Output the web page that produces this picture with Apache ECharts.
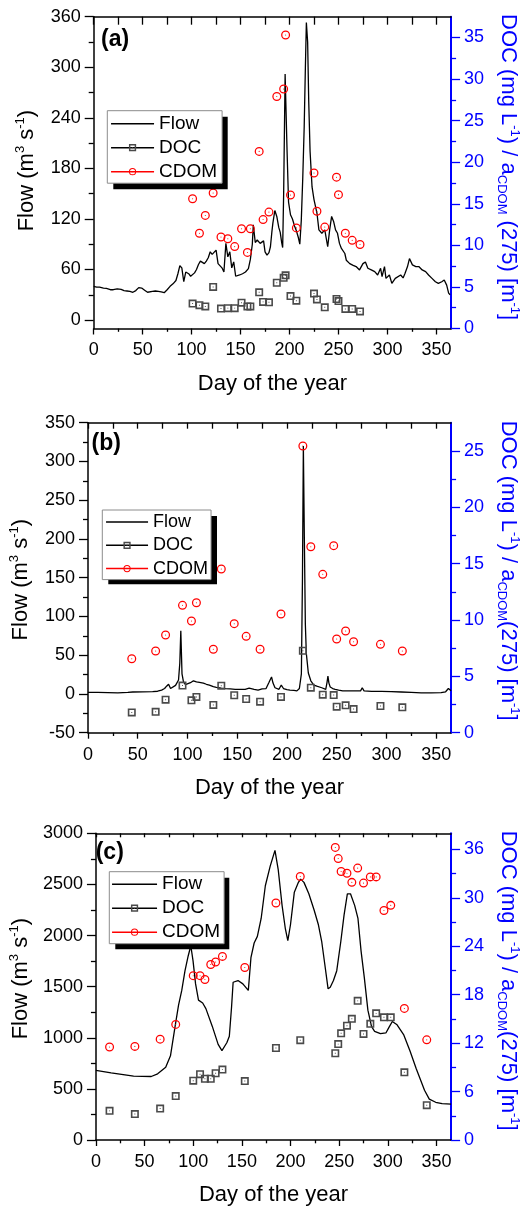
<!DOCTYPE html>
<html>
<head>
<meta charset="utf-8">
<script src="https://cdn.jsdelivr.net/npm/echarts@6/dist/echarts.min.js"></script>
<style>
html,body{margin:0;padding:0;background:#fff;}
#c{width:529px;height:1207px;}
</style>
</head>
<body>
<div id="c"></div>
<script>
// ---------------- DATA ----------------
// Panel (a)
const flowA = [[0,40],[3,39],[6,39],[10,38],[13,37.5],[17,36],[20,36],[24,37],[28,36.5],[31,35],[34,34.5],[37,34],[40,33],[43,35],[46,38.5],[49,38],[52,35.5],[55,33],[57,32.5],[60,34],[63,34.5],[66,34],[69,33.5],[72,32.5],[75,36],[78,40],[81,43],[84,47],[86,55],[88,64.5],[90,62],[92,45.5],[94,57],[97,55],[99,52],[101,51],[103,56],[105,60],[107,66],[109,70],[111,68],[113,67],[115,70],[117,74],[119,81],[121,78],[122,79],[125,83],[127,67],[129,65],[131,62],[133,57],[135,91],[137,75],[139,81],[141,62],[143,69],[145,52],[147,50],[149,53.5],[152,55],[155,57],[158,61],[160,72],[162,90],[163,113],[165,92],[167,95],[168.5,97],[170,91],[172,93],[173.5,94],[175,81],[177,77],[179,80],[180.5,87],[182,105],[183,115],[185,130],[187,123],[189,110],[190.5,104],[192,92],[193,86],[194,150],[195.5,292],[197.5,200],[199,140],[201,125],[203,120],[205,112],[207,106],[209,98],[210.5,90],[212,118],[213.5,168],[215,230],[216.2,300],[217.2,353],[218.5,330],[219.6,260],[221,200],[223,158],[225,143],[228,127],[230,107],[233,103],[236,107],[239,87],[241,107],[243,123],[245,117],[247,107],[249,103],[251,91],[253,85],[255,83],[256.5,79],[258,71],[261.5,67],[265,65],[268,63.5],[271.5,59.5],[275,67],[277.5,69],[280,61.5],[283.5,59.5],[287,57.5],[290,53.5],[293,61.5],[294.5,51.5],[297,63.5],[298.5,49.5],[302,53.5],[304.5,43.5],[308,49.5],[310,47.5],[313.5,53.5],[316,50],[318,55.5],[320.5,63.5],[322.5,73],[325.5,65.5],[329,63.5],[332,63.5],[335.5,59.5],[339,57.5],[342,53.5],[345.5,49.5],[349,45.5],[352,43.5],[355.5,45.5],[358,47.5],[360.5,41.5],[362.5,32],[364,30]];
const daysA = [101,108,114,122,130,137,144,151,157,160,169,173,179,187,194,196,201,207,225,228,236,248,250,257,264,272];
const docA  = [3.0,2.8,2.65,5.0,2.4,2.45,2.45,3.1,2.65,2.65,4.35,3.2,3.15,5.5,6.1,6.4,3.9,3.35,4.2,3.5,2.55,3.55,3.3,2.35,2.35,2.05];
const cdomA = [15.6,11.45,13.6,16.3,11.0,10.8,9.85,12.0,9.15,12.0,21.3,13.1,14.0,27.9,28.8,35.3,16.05,12.1,18.7,14.1,12.2,18.2,16.1,11.45,10.6,10.1];

// Panel (b)
const flowB = [[0,2],[10,2],[20,1.8],[30,1.5],[40,2],[45,2.5],[55,2.8],[65,3],[70,3.5],[74,5],[77,7],[79,10],[81,12.6],[83,7],[85,6],[88,11],[91,18],[92.3,40],[93.3,81.5],[94.5,26],[96,15.5],[98,12],[100,11],[103,14.5],[106,17],[109,15.5],[112,15],[116,14],[119,12.5],[122,11.5],[126,9.5],[129,8.5],[134,7.5],[138,7],[143,6.5],[148,6],[153,5.8],[158,6],[162,7.5],[164,8.5],[167,6],[171,5],[175,6.5],[179,7],[182,15],[184.5,22],[186,14],[188,8],[192,6],[194.3,11.5],[196.5,7],[200,5.5],[203,5],[207,4.5],[210,4],[212.5,7],[214.5,26],[215.6,150],[216.5,320],[217.5,200],[218.5,90],[219.5,52],[221.5,27],[224,17],[227,11.5],[230,10],[232,9],[235,8],[237,7],[239,6],[240.3,15],[241.2,23],[242.2,14],[243.5,9],[246,7],[248.5,6],[252,5],[256,4],[262,4],[268,4],[274,4],[275.7,8],[277.5,4],[285,3.3],[295,3.2],[305,3],[315,2.5],[325,2],[335,1.5],[345,1.5],[355,1.8],[359.5,2.8],[362.3,7],[363.5,5],[365,4]];
const daysB = [44,68,78,95,104,109,126,134,147,159,173,194,216,224,236,247,250,259,267,294,316];
const docB  = [1.8,1.85,2.93,4.18,2.87,3.17,2.46,4.17,3.32,2.99,2.75,3.17,7.27,3.99,3.37,3.34,2.31,2.43,2.1,2.37,2.25];
const cdomB = [6.56,7.25,8.67,11.3,9.91,11.53,7.4,14.52,9.67,8.55,7.4,10.53,25.43,16.5,14.05,16.59,8.31,9.02,8.07,7.84,7.25];

// Panel (c)
const flowC = [[0,682],[15.6,657],[38.7,624],[56.8,621],[63.4,647],[71.7,711],[76.6,823],[81.6,1127],[84.9,1320],[88.2,1463],[91.5,1655],[94.8,1800],[97.5,1900],[99.8,1752],[102.4,1527],[105.4,1368],[109.7,1340],[113,1285],[119.6,1111],[125.6,935],[129.5,875],[134.5,951],[137.1,1015],[139.4,1303],[141,1543],[146,1560],[151,1527],[156.6,1463],[159.3,1783],[162.6,1927],[165.9,1992],[169.8,2167],[174.1,2487],[179.1,2679],[184,2833],[187.3,2648],[191.3,2295],[194.6,2071],[197.2,1950],[199.9,2103],[203.9,2424],[208.1,2520],[210.4,2552],[213.8,2520],[218.8,2408],[224.3,2247],[228.7,2103],[232,1944],[235.2,1719],[238.6,1479],[240.8,1495],[244.1,1560],[247.5,1656],[251.7,1944],[255,2199],[258.4,2408],[261.6,2408],[265.9,2295],[269.3,2167],[272.5,1848],[275.8,1591],[279.5,1270],[283.2,1111],[286.4,1063],[292.4,1041],[298,1047],[301.3,1104],[304.6,1159],[309.5,1127],[316.2,1031],[322.8,871],[329.3,695],[337.7,487],[342.6,400],[349.2,369],[355.8,355],[365,350]];
const daysC = [14,40,66,82,100,107,112,118,123,130,153,185,210,246,249,252,258,263,269,275,282,288,296,303,317,340];
const docC  = [3.61,3.21,3.89,5.44,7.35,8.15,7.59,7.59,8.27,8.72,7.3,11.4,12.37,10.75,11.88,13.22,14.16,15.01,17.24,13.14,14.4,15.69,15.2,15.2,8.39,4.31];
const cdomC = [11.52,11.6,12.49,14.32,20.36,20.36,19.88,21.74,22.06,22.75,21.37,29.36,32.65,36.25,34.87,33.26,33.05,31.92,33.69,31.83,32.6,32.6,28.43,29.07,16.3,12.41];

// Tick labels
const dayTicks   = [0,50,100,150,200,250,300,350];
const flowTicksA = [0,60,120,180,240,300,360];
const flowTicksB = [-50,0,50,100,150,200,250,300,350];
const flowTicksC = [0,500,1000,1500,2000,2500,3000];
const concTicksA = [0,5,10,15,20,25,30,35];
const concTicksB = [0,5,10,15,20,25];
const concTicksC = [0,6,12,18,24,30,36];
const panelLabels = ['(a)','(b)','(c)'];
const seriesNames = ['Flow','DOC','CDOM'];

// ---------------- LAYOUT / STYLE ----------------
const FONT = '"Liberation Sans", Arial, Helvetica, sans-serif';
const BLUE = '#0000ff';
const SQ = 'path://M0,0H10V10H0Z M2,2V8H8V2Z M4.4,4.4H5.6V5.6H4.4Z';
const CI = 'path://M0,5A5,5,0,1,1,10,5A5,5,0,1,1,0,5Z M1.4,5A3.6,3.6,0,1,0,8.6,5A3.6,3.6,0,1,0,1.4,5Z M4.4,5A0.6,0.6,0,1,1,5.6,5A0.6,0.6,0,1,1,4.4,5Z';

function mids(a){ const r=[]; for(let i=0;i<a.length-1;i++) r.push((a[i]+a[i+1])/2); return r; }
function steps(a,b,s){ const r=[]; for(let v=a; v<=b+1e-9; v+=s) r.push(v); return r; }
const plain = v => String(v);

const panels = [
  { grid:{left:93.7, top:16.7, width:362, height:311.8},
    flow:flowA, days:daysA, doc:docA, cdom:cdomA,
    yL:{min:-10,max:360,ticks:flowTicksA}, yR:{min:0,max:37.5,ticks:concTicksA},
    topLen:8, rightName:'{t|DOC (mg L}{p|-1}{t|) / a}{b|CDOM}{t| (275) [m}{p|-1}{t|]}',
    legend:{left:107.3, top:110.7, w:114.4, h:72.6, fs:19, iw:43, gap:5, pad:[3.5,5,2,3]},
    label:{left:101, top:28}, lPad:[0,0,0,4], rPad:[0,11,0,0] },
  { grid:{left:83.7, top:422.7, width:376.8, height:310},
    flow:flowB, days:daysB, doc:docB, cdom:cdomB,
    yL:{min:-50,max:350,ticks:flowTicksB}, yR:{min:0,max:27.5,ticks:concTicksB},
    topLen:6, rightName:'{t|DOC (mg L}{p|-1}{t|) / a}{b|CDOM}{t|(275) [m}{p|-1}{t|]}',
    legend:{left:102.3, top:510, w:108.7, h:68.3, fs:18, iw:42, gap:5.3, pad:[3,3,2,3]},
    label:{left:91.5, top:432.5}, lPad:[0,4,0,0], rPad:[0,14,0,0] },
  { grid:{left:91, top:833.3, width:368.3, height:312.4},
    flow:flowC, days:daysC, doc:docC, cdom:cdomC,
    yL:{min:0,max:3000,ticks:flowTicksC}, yR:{min:0,max:38,ticks:concTicksC},
    topLen:4, rightName:'{t|DOC (mg L}{p|-1}{t|) / a}{b|CDOM}{t|(275) [m}{p|-1}{t|]}',
    legend:{left:109.3, top:871.7, w:114, h:71.6, fs:19, iw:45, gap:5, pad:[3,4,2,2]},
    label:{left:95.7, top:841.5}, lPad:[0,0,0,16], rPad:[0,12,0,0] }
];

const rich = (color) => ({
  t:{fontSize:22, lineHeight:26, fontFamily:FONT, color:color},
  p:{fontSize:13, lineHeight:13, fontFamily:FONT, color:color, verticalAlign:'top'},
  b:{fontSize:13, lineHeight:13, fontFamily:FONT, color:color, verticalAlign:'bottom'}
});

const option = {
  animation:false,
  backgroundColor:'#fff',
  grid:[], xAxis:[], yAxis:[], series:[], legend:[], title:[], graphic:[]
};

panels.forEach((P, g) => {
  option.grid.push(Object.assign({containLabel:false}, P.grid));
  const xi = option.xAxis.length, yi = option.yAxis.length;
  const noSplit = {show:false};
  // bottom axis
  option.xAxis.push({gridIndex:g, type:'value', position:'bottom', min:0, max:365,
    axisLine:{show:true, onZero:false, lineStyle:{color:'#000', width:1.5}},
    axisTick:{show:true, customValues:dayTicks, length:6, lineStyle:{color:'#000', width:1.3}},
    axisLabel:{show:true, customValues:dayTicks, formatter:plain, fontSize:18, color:'#000', fontFamily:FONT, margin:13},
    splitLine:noSplit,
    name:'Day of the year', nameLocation:'middle', nameGap:44,
    nameTextStyle:{fontSize:22, color:'#000', fontFamily:FONT}});
  option.xAxis.push({gridIndex:g, type:'value', position:'bottom', min:0, max:365,
    axisLine:{show:false, onZero:false},
    axisTick:{show:true, customValues:mids(dayTicks), length:3.3, lineStyle:{color:'#000', width:1.3}},
    axisLabel:{show:false}, splitLine:noSplit});
  option.xAxis.push({gridIndex:g, type:'value', position:'top', min:0, max:365,
    axisLine:{show:true, onZero:false, lineStyle:{color:'#000', width:1.5}},
    axisTick:{show:true, inside:true, customValues:steps(0,350,25), length:P.topLen, lineStyle:{color:'#000', width:1.3}},
    axisLabel:{show:false}, splitLine:noSplit});
  // left axis
  option.yAxis.push({gridIndex:g, type:'value', position:'left', min:P.yL.min, max:P.yL.max,
    axisLine:{show:true, onZero:false, lineStyle:{color:'#000', width:1.5}},
    axisTick:{show:true, customValues:P.yL.ticks, length:9, lineStyle:{color:'#000', width:1.3}},
    axisLabel:{show:true, customValues:P.yL.ticks, formatter:plain, fontSize:18, color:'#000', fontFamily:FONT, margin:13},
    splitLine:noSplit,
    name:'{t|Flow (m}{p|3}{t| s}{p|-1}{t|)}', nameLocation:'middle', nameRotate:90, nameGap:54,
    nameTextStyle:{fontSize:22, color:'#000', fontFamily:FONT, rich:rich('#000'), padding:P.lPad}});
  option.yAxis.push({gridIndex:g, type:'value', position:'left', min:P.yL.min, max:P.yL.max,
    axisLine:{show:false, onZero:false},
    axisTick:{show:true, customValues:mids(P.yL.ticks), length:5, lineStyle:{color:'#000', width:1.3}},
    axisLabel:{show:false}, splitLine:noSplit});
  // right axis
  option.yAxis.push({gridIndex:g, type:'value', position:'right', min:P.yR.min, max:P.yR.max,
    axisLine:{show:true, onZero:false, lineStyle:{color:BLUE, width:2}},
    axisTick:{show:true, customValues:P.yR.ticks, length:9, lineStyle:{color:BLUE, width:1.3}},
    axisLabel:{show:true, customValues:P.yR.ticks, formatter:plain, fontSize:18, color:BLUE, fontFamily:FONT, margin:13},
    splitLine:noSplit,
    name:P.rightName, nameLocation:'middle', nameRotate:-90, nameGap:40,
    nameTextStyle:{fontSize:22, color:BLUE, fontFamily:FONT, rich:rich(BLUE), padding:P.rPad}});
  option.yAxis.push({gridIndex:g, type:'value', position:'right', min:P.yR.min, max:P.yR.max,
    axisLine:{show:false, onZero:false},
    axisTick:{show:true, customValues:mids(P.yR.ticks), length:5, lineStyle:{color:BLUE, width:1.3}},
    axisLabel:{show:false}, splitLine:noSplit});

  // series
  option.series.push({name:seriesNames[0], type:'line', xAxisIndex:xi, yAxisIndex:yi,
    data:P.flow, symbol:'none', lineStyle:{color:'#000', width:1.3}, itemStyle:{color:'#000'}, z:2, silent:true});
  option.series.push({name:seriesNames[1], type:'line', xAxisIndex:xi, yAxisIndex:yi+2,
    data:P.days.map((d,i)=>[d,P.doc[i]]), symbol:SQ, symbolSize:8, showSymbol:true, showAllSymbol:true,
    itemStyle:{color:'#4a4a4a'}, lineStyle:{width:0, opacity:0}, z:3, silent:true});
  option.series.push({name:seriesNames[2], type:'line', xAxisIndex:xi, yAxisIndex:yi+2,
    data:P.days.map((d,i)=>[d,P.cdom[i]]), symbol:CI, symbolSize:9, showSymbol:true, showAllSymbol:true,
    itemStyle:{color:'#ff0000'}, lineStyle:{width:0, opacity:0}, z:4, silent:true});

  // legend shadow box (decoration) + legend
  const L = P.legend;
  option.graphic.push({type:'rect', z:5, silent:true,
    shape:{x:L.left+6, y:L.top+6, width:L.w, height:L.h}, style:{fill:'#000'}});
  option.legend.push({orient:'vertical', left:L.left, top:L.top, padding:L.pad, itemGap:L.gap,
    itemWidth:L.iw, itemHeight:9, selectedMode:false, z:6,
    backgroundColor:'#fff', borderColor:'#8c8c8c', borderWidth:1,
    textStyle:{fontSize:L.fs, color:'#000', fontFamily:FONT},
    data:[
      {name:'Flow', itemStyle:{opacity:0, borderWidth:0}, lineStyle:{color:'#000', width:1.5, opacity:1, type:'solid'}},
      {name:'DOC', itemStyle:{borderWidth:0}, lineStyle:{color:'#000', width:1.5, opacity:1, type:'solid'}},
      {name:'CDOM', itemStyle:{borderWidth:0}, lineStyle:{color:'#ff0000', width:1.5, opacity:1, type:'solid'}}
    ]});

  option.title.push({text:panelLabels[g], left:P.label.left, top:P.label.top, padding:0,
    textStyle:{fontSize:23, fontWeight:'bold', color:'#000', fontFamily:FONT}});
});

const chart = echarts.init(document.getElementById('c'), null, {renderer:'canvas', width:529, height:1207});
chart.setOption(option);
</script>
</body>
</html>
